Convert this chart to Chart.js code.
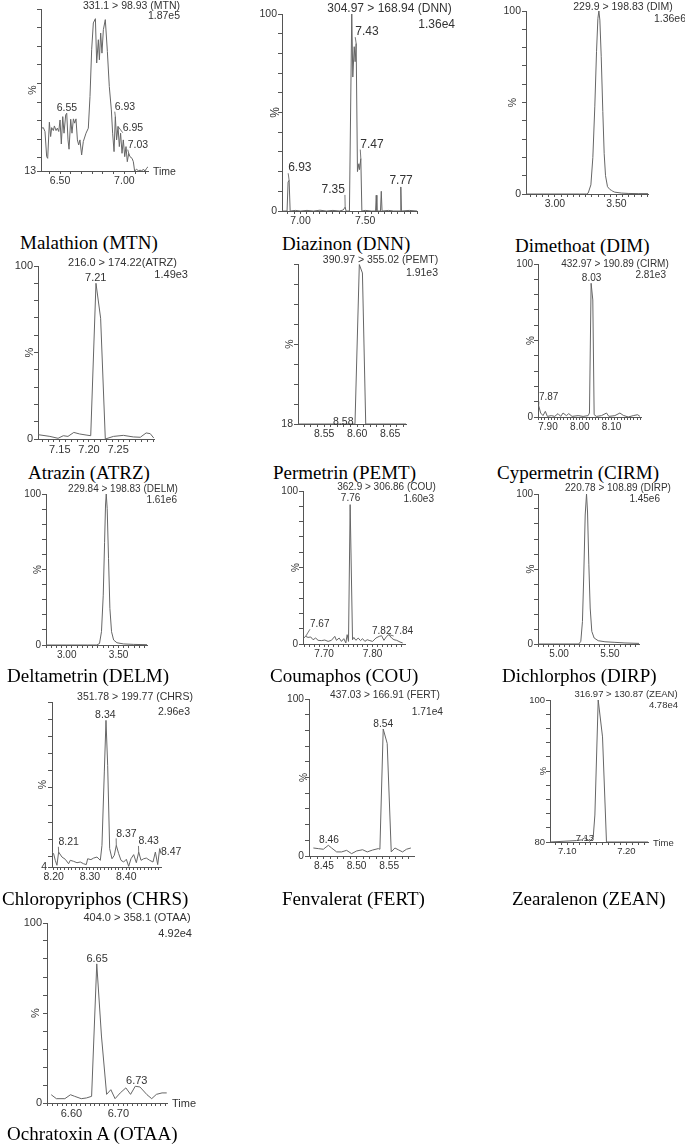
<!DOCTYPE html>
<html>
<head>
<meta charset="utf-8">
<script src="https://cdn.jsdelivr.net/npm/chart.js@4.4.1/dist/chart.umd.min.js"></script>
<style>
  body { margin: 0; background: #fff; width: 685px; height: 1144px; position: relative; overflow: hidden; }
  .cap { position: absolute; font-family: "Liberation Serif", "Times New Roman", serif; line-height: 1; color: #000; white-space: nowrap; }
  .hd { position: absolute; font-family: "Liberation Sans", Arial, sans-serif; line-height: 1; color: #333; white-space: nowrap; }
</style>
</head>
<body>
<script>
// chromatogram traces, [time, %]
const mtnTrace = [[6.358,36.0],[6.370,36.3],[6.383,34.2],[6.396,20.7],[6.404,19.8],[6.417,39.2],[6.427,31.5],[6.435,36.3],[6.448,34.7],[6.456,37.2],[6.469,34.7],[6.479,36.0],[6.490,34.2],[6.500,40.4],[6.510,27.5],[6.521,42.2],[6.531,33.3],[6.544,43.1],[6.552,44.0],[6.562,29.7],[6.570,24.7],[6.583,40.8],[6.593,33.3],[6.604,41.0],[6.614,38.7],[6.624,41.0],[6.635,29.7],[6.645,27.0],[6.655,29.7],[6.668,21.6],[6.681,28.8],[6.702,33.3],[6.720,36.0],[6.733,53.0],[6.746,78.1],[6.759,92.5],[6.775,94.8],[6.785,71.0],[6.798,83.5],[6.806,72.7],[6.816,87.1],[6.826,76.3],[6.837,88.9],[6.852,94.3],[6.868,77.2],[6.883,58.4],[6.899,45.8],[6.909,33.3],[6.920,23.4],[6.930,42.2],[6.940,29.7],[6.951,36.9],[6.961,26.1],[6.971,33.3],[6.982,22.5],[6.992,29.7],[7.003,20.7],[7.013,26.1],[7.023,18.0],[7.034,22.5],[7.044,20.7],[7.060,19.8],[7.070,18.0],[7.080,13.0],[7.096,14.0],[7.110,13.0],[7.122,13.5],[7.135,13.0],[7.148,14.0],[7.160,13.0],[7.174,14.5],[7.187,15.5]];
const dnnTrace = [[6.857,0],[6.896,0],[6.904,14.7],[6.912,15.6],[6.920,0],[6.96,0.3],[7.00,0],[7.05,0.3],[7.10,0],[7.15,0.4],[7.20,0],[7.25,0.3],[7.30,0],[7.33,0.5],[7.345,2.0],[7.352,0],[7.378,0],[7.396,100],[7.404,68],[7.415,83.4],[7.422,75.8],[7.430,85],[7.440,20],[7.451,24],[7.456,21],[7.466,26.6],[7.474,0],[7.50,0.3],[7.55,0],[7.580,0],[7.585,8],[7.590,0],[7.618,0],[7.624,10],[7.630,0],[7.68,0.3],[7.72,0],[7.770,0],[7.775,12.2],[7.780,0],[7.84,0.3],[7.90,0]];
const dimTrace = [[2.765,0],[3.0,0],[3.20,0],[3.257,0],[3.270,0.5],[3.292,5],[3.308,20],[3.324,48],[3.338,78],[3.349,96],[3.357,100],[3.365,95],[3.376,75],[3.389,45],[3.400,22],[3.411,10],[3.427,4],[3.446,2.5],[3.459,2],[3.470,1.5],[3.486,1],[3.541,0.5],[3.595,0.3],[3.676,0.2],[3.756,0.2]];
const atrzTrace = [[7.113,2.5],[7.133,1.5],[7.147,0.4],[7.156,1.9],[7.164,1.5],[7.174,3.8],[7.184,2.9],[7.195,2.3],[7.203,1.9],[7.212,90],[7.220,69.8],[7.228,0],[7.242,1.5],[7.259,2.1],[7.276,1.2],[7.288,1],[7.298,3.5],[7.305,3.1],[7.311,0.6]];
const pemtTrace = [[8.5104,18],[8.55,18],[8.5967,18],[8.6033,99.7],[8.608,95.4],[8.613,18],[8.674,18]];
const cirmTrace = [[7.8706,7.4],[7.8769,2.6],[7.8842,0.9],[7.8916,3.7],[7.8979,0.4],[7.9105,0.9],[7.9210,0.4],[7.9315,2.2],[7.9400,0.4],[7.9473,2.6],[7.9578,0.9],[7.9652,2.2],[7.9757,0.4],[7.9946,0.9],[8.0104,0.4],[8.0262,0.9],[8.0304,2.6],[8.0356,87.4],[8.0409,76.5],[8.0451,1.5],[8.0525,0.4],[8.0682,0.9],[8.0840,2.6],[8.0914,0.4],[8.1103,0.9],[8.1261,2.6],[8.1366,1.1],[8.1524,0],[8.1681,0.9],[8.1818,1.5],[8.1892,0.4]];
const delmTrace = [[2.80,0],[3.0,0],[3.20,0],[3.29,0],[3.316,1],[3.335,8.8],[3.352,33],[3.365,68],[3.374,92.7],[3.381,100],[3.39,90.5],[3.403,57.4],[3.416,24.3],[3.432,8.8],[3.452,3.3],[3.484,1.5],[3.548,0.7],[3.645,0.4],[3.774,0.2]];
const couTrace = [[7.6579,3.9],[7.6620,5.0],[7.6669,4.3],[7.6724,4.6],[7.6772,2.8],[7.6827,3.9],[7.6876,2.4],[7.6945,2.2],[7.7014,2.6],[7.7083,1.7],[7.7152,2.4],[7.7221,5.0],[7.7255,2.4],[7.7311,3.9],[7.7359,1.7],[7.7407,3.5],[7.7449,0.7],[7.7476,6.1],[7.7504,1.7],[7.7538,91.1],[7.7587,2.8],[7.7614,4.3],[7.7656,2.4],[7.7704,3.9],[7.7752,2.2],[7.7794,3.5],[7.7842,1.7],[7.7890,2.8],[7.7945,2.2],[7.8001,1.7],[7.8070,3.9],[7.8139,5.0],[7.8187,5.4],[7.8235,2.4],[7.8291,5.0],[7.8339,6.1],[7.8394,3.9],[7.8442,2.8],[7.8498,2.4],[7.8567,1.3],[7.8622,0.7]];
const dirpTrace = [[4.793,0],[5.0,0],[5.194,0],[5.214,1.8],[5.230,15],[5.243,46],[5.257,86],[5.270,100],[5.280,88],[5.293,52.8],[5.306,24],[5.322,8.4],[5.345,4],[5.385,2.2],[5.451,1.5],[5.549,1.1],[5.648,0.7],[5.786,0.4]];
const chrsTrace = [[8.1954,12.7],[8.2000,11.8],[8.2046,7.9],[8.2092,5.0],[8.2138,12.7],[8.2230,9.8],[8.2321,8.5],[8.2413,5.9],[8.2459,7.9],[8.2551,7.3],[8.2643,6.5],[8.2735,6.9],[8.2826,5.9],[8.2900,5.4],[8.2937,8.8],[8.3028,8.3],[8.3102,9.2],[8.3194,9.8],[8.3286,7.9],[8.3331,16.6],[8.3396,59.3],[8.3442,89.3],[8.3488,63.2],[8.3543,14.7],[8.3607,8.8],[8.3671,10.8],[8.3726,16.6],[8.3791,11.8],[8.3855,7.9],[8.3928,6.9],[8.4002,8.5],[8.4066,4.4],[8.4130,8.8],[8.4204,11.2],[8.4277,6.5],[8.4342,12.7],[8.4406,7.9],[8.4479,8.8],[8.4553,9.2],[8.4645,7.9],[8.4736,6.9],[8.4801,12.7],[8.4865,5.4],[8.4920,14.7],[8.4957,11.8]];
const fertTrace = [[8.4337,5.1],[8.4413,4.7],[8.4490,4.3],[8.4566,6.8],[8.4617,5.1],[8.4694,2.6],[8.4770,2.6],[8.4847,3.6],[8.4923,1.5],[8.5000,3.2],[8.5092,4.0],[8.5163,2.6],[8.5245,3.8],[8.5332,4.7],[8.5357,4.3],[8.5408,80.9],[8.5469,71.7],[8.5531,2.6],[8.5587,5.1],[8.5638,4.0],[8.5704,2.6],[8.5765,4.3],[8.5832,5.1]];
const zeanTrace = [[7.0708,80],[7.1157,80.2],[7.1242,80.3],[7.1298,80.6],[7.1382,80.1],[7.1438,80.6],[7.1467,83.8],[7.1523,100],[7.1596,94.8],[7.1663,80],[7.2365,80]];
const otaaTrace = [[6.557,4.6],[6.568,2.4],[6.586,2.4],[6.598,4.6],[6.607,3.7],[6.621,2.4],[6.632,2.8],[6.643,3.7],[6.654,77.3],[6.664,37.2],[6.675,4.8],[6.684,7.4],[6.693,2.4],[6.704,5.6],[6.716,8.4],[6.726,4.8],[6.736,9.3],[6.746,8.9],[6.761,4.6],[6.771,2.4],[6.781,4.8],[6.793,5.6],[6.803,5.6]];

// peak labels: [text, time, % of the text centre, optional leader point time, %]
const mtnPeaks = [['6.55',6.554,46.8],['6.93',7.005,47.4,6.93,42.2],['6.95',7.067,36.1,6.951,36.9],['7.03',7.106,27,7.034,22.5]];
const dnnPeaks = [['7.43',7.513,91,7.430,85],['7.47',7.552,33.9,7.466,26.6],['6.93',6.995,21.9,6.912,15.6],['7.35',7.253,10.9,7.345,2.0],['7.77',7.777,15.6]];
const atrzPeaks = [['7.21',7.2116,92.9]];
const pemtPeaks = [['8.58',8.579,19.2]];
const cirmPeaks = [['8.03',8.037,90.7],['7.87',7.902,13,7.8706,7.4]];
const couPeaks = [['7.76',7.7547,95],['7.67',7.691,12.6,7.662,5.0],['7.82',7.819,8.2],['7.84',7.8636,8.2,7.8339,6.1]];
const chrsPeaks = [['8.34',8.3424,92.3],['8.21',8.2413,18.5,8.2138,12.7],['8.37',8.4003,23.4,8.3726,16.6],['8.43',8.4617,19,8.4342,12.7],['8.47',8.5234,12.7]];
const fertPeaks = [['8.54',8.5408,83.9],['8.46',8.4577,10]];
const zeanPeaks = [['7.13',7.1298,80.56]];
const otaaPeaks = [['6.65',6.6548,79.9],['6.73',6.7392,12.3]];

// axis ranges and tick labels
const timeRanges = [[6.352,7.184],[6.857,7.90],[2.765,3.756],[7.1126,7.3115],[8.5104,8.674],[7.8685,8.1925],[2.80,3.774],[7.6565,7.867],[4.793,5.786],[8.1956,8.4956],[8.427,8.588],[7.0708,7.2365],[6.548,6.8036]];
const timeLabels = [[6.50,7.00],[7.00,7.50],[3.00,3.50],[7.15,7.20,7.25],[8.55,8.60,8.65],[7.90,8.00,8.10],[3.00,3.50],[7.70,7.80],[5.00,5.50],[8.20,8.30,8.40],[8.45,8.50,8.55],[7.10,7.20],[6.60,6.70]];
const timeMinorSteps = [0.5/6,0.05,0.05,0.01,0.01,0.01,0.05,0.01,0.05,0.01,0.01,0.01,0.01];
const fullTicks = [0,10,20,30,40,50,60,70,80,90,100];
const mtnYTicks = [13,20,30,40,50,60,70,80,90,100];
const pemtYTicks = [18,28.25,38.5,48.75,59,69.25,79.5,89.75,100];
const chrsYTicks = [4,10,20,30,40,50,60,70,80,90,100];
const zeanYTicks = [80,82,84,86,88,90,92,94,96,98,100];
const pctRanges = [[13,100],[0,100],[0,100],[0,100],[18,100],[0,100],[0,100],[0,100],[0,100],[4,100],[0,100],[80,100],[0,100]];
const pctTickSets = [mtnYTicks,fullTicks,fullTicks,fullTicks,pemtYTicks,fullTicks,fullTicks,fullTicks,fullTicks,chrsYTicks,fullTicks,zeanYTicks,fullTicks];
const pctLabels = [[13],[0,100],[0,100],[0,100],[18],[0,100],[0,100],[0,100],[0,100],[4],[0,100],[80,100],[0,100]];

const compoundNames = ['Malathion (MTN)','Diazinon (DNN)','Dimethoat (DIM)','Atrazin (ATRZ)','Permetrin (PEMT)','Cypermetrin (CIRM)','Deltametrin (DELM)','Coumaphos (COU)','Dichlorphos (DIRP)','Chloropyriphos (CHRS)','Fenvalerat (FERT)','Zearalenon (ZEAN)','Ochratoxin A (OTAA)'];
const transitions = ['331.1 > 98.93 (MTN)','304.97 > 168.94 (DNN)','229.9 > 198.83 (DIM)','216.0 > 174.22(ATRZ)','390.97 > 355.02 (PEMT)','432.97 > 190.89 (CIRM)','229.84 > 198.83 (DELM)','362.9 > 306.86 (COU)','220.78 > 108.89 (DIRP)','351.78 > 199.77 (CHRS)','437.03 > 166.91 (FERT)','316.97 > 130.87 (ZEAN)','404.0 > 358.1 (OTAA)'];
const intensities = ['1.87e5','1.36e4','1.36e6','1.49e3','1.91e3','2.81e3','1.61e6','1.60e3','1.45e6','2.96e3','1.71e4','4.78e4','4.92e4'];

const traces = [mtnTrace,dnnTrace,dimTrace,atrzTrace,pemtTrace,cirmTrace,delmTrace,couTrace,dirpTrace,chrsTrace,fertTrace,zeanTrace,otaaTrace];
const peaks = [mtnPeaks,dnnPeaks,[],atrzPeaks,pemtPeaks,cirmPeaks,[],couPeaks,[],chrsPeaks,fertPeaks,zeanPeaks,otaaPeaks];

// page placement of each panel: plot box [l,t,r,b], font size, header/intensity/caption anchors
const layout = [
  {area:[41,9,148,171], fs:10.5, head:[131.5,5], inten:[180,15], cap:[20,242], pct:8, time:true},
  {area:[282,14,417,211], fs:12, tfs:10.5, head:[389.5,8], inten:[455,24], cap:[282,243], pct:6},
  {area:[526,11,648,194], fs:10.5, head:[623,6], inten:[686,18], cap:[515,245], pct:13},
  {area:[38,266,154,439], fs:11, head:[122.5,262], inten:[188,274], cap:[28,472], pct:8},
  {area:[298,264,406,424], fs:10.5, head:[380.5,259], inten:[438,272], cap:[273,472], pct:8},
  {area:[538,264,641,417], fs:10, head:[615,264], inten:[666,275], cap:[497,472], pct:7},
  {area:[46,494,147,645], fs:10, head:[123,489], inten:[177,500], cap:[7,675], pct:8},
  {area:[303,491,405,644], fs:10, head:[386.5,487], inten:[434,499], cap:[270,675], pct:7},
  {area:[538,494,639,644], fs:10, head:[618,488], inten:[660,499], cap:[502,675], pct:7},
  {area:[52,702,161,867], fs:10.5, head:[135,696], inten:[190,711], cap:[2,898], pct:9},
  {area:[309,699,414,856], fs:10.2, head:[385,695], inten:[443,712], cap:[282,898], pct:5},
  {area:[550,700,648,842], fs:9.5, head:[626,694], inten:[678,705], cap:[512,898], pct:7, time:true},
  {area:[47,923,167,1103], fs:11, head:[137,917], inten:[192,933], cap:[7,1133], pct:11, time:true}
];

const SANS = '"Liberation Sans", Arial, sans-serif';
const axisGray = '#555';
const textGray = '#333';
const lineGray = '#666';

function addText(cls, text, x, y, fs, align) {
  const d = document.createElement('div');
  d.className = cls;
  d.textContent = text;
  d.style.left = x + 'px';
  d.style.top = (y - fs / 2) + 'px';
  d.style.fontSize = fs + 'px';
  if (align === 'center') d.style.transform = 'translateX(-50%)';
  if (align === 'right') d.style.transform = 'translateX(-100%)';
  document.body.appendChild(d);
}

function timeTicks(i) {
  const step = timeMinorSteps[i];
  const [lo, hi] = timeRanges[i];
  const out = [];
  for (let k = Math.ceil(lo / step - 1e-9); k * step <= hi + 1e-9; k++) out.push(k * step);
  return out;
}

function makePanel(i) {
  const L = layout[i];
  const [l, t, r, b] = L.area;
  const fs = L.fs, tfs = L.tfs || L.fs;
  const W = (r - l) + 70, H = (b - t) + 32;
  const cv = document.createElement('canvas');
  cv.width = W; cv.height = H;
  cv.style.cssText = `position:absolute;left:${l - 30}px;top:${t - 10}px;width:${W}px;height:${H}px`;
  document.body.appendChild(cv);

  const extras = {
    id: 'extras' + i,
    afterDraw(chart) {
      const {ctx, chartArea: a, scales: {x, y}} = chart;
      ctx.save();
      ctx.fillStyle = textGray;
      ctx.strokeStyle = axisGray;
      ctx.lineWidth = 0.8;
      ctx.font = `${fs}px ${SANS}`;
      ctx.textAlign = 'center';
      ctx.textBaseline = 'middle';
      peaks[i].forEach(([txt, tx, ty, lx, ly]) => {
        const px = x.getPixelForValue(tx), py = y.getPixelForValue(ty);
        ctx.fillText(txt, px, py);
        if (lx !== undefined) {
          const w = ctx.measureText(txt).width;
          const ex = lx < tx ? px - w / 2 : px + w / 2;
          ctx.beginPath();
          ctx.moveTo(x.getPixelForValue(lx), y.getPixelForValue(ly));
          ctx.lineTo(ex, py + fs * 0.45);
          ctx.stroke();
        }
      });
      if (L.time) {
        ctx.textAlign = 'left';
        ctx.fillText('Time', a.right + 5, a.bottom + 1);
      }
      ctx.translate(a.left - L.pct, (a.top + a.bottom) / 2);
      ctx.rotate(-Math.PI / 2);
      ctx.textAlign = 'center';
      ctx.fillText('%', 0, 0);
      ctx.restore();
    }
  };

  new Chart(cv, {
    type: 'line',
    data: {
      datasets: [{
        data: traces[i].map(([tm, pc]) => ({x: tm, y: pc})),
        borderColor: lineGray,
        borderWidth: 1,
        pointRadius: 0,
        tension: 0,
        fill: false
      }]
    },
    options: {
      responsive: false,
      animation: false,
      events: [],
      layout: {padding: {left: 0, top: 10, right: 40, bottom: 0}},
      plugins: {legend: {display: false}, tooltip: {enabled: false}},
      scales: {
        x: {
          type: 'linear',
          bounds: 'data',
          min: timeRanges[i][0],
          max: timeRanges[i][1],
          afterBuildTicks: s => { s.ticks = timeTicks(i).map(v => ({value: v})) },
          afterFit: s => { s.height = 22 },
          grid: {drawOnChartArea: false, drawTicks: true, tickLength: 3, color: axisGray},
          border: {color: axisGray},
          ticks: {
            autoSkip: false, maxRotation: 0, minRotation: 0, padding: 1,
            color: textGray, font: {family: SANS, size: tfs},
            callback: v => timeLabels[i].some(m => Math.abs(m - v) < 1e-6) ? v.toFixed(2) : ''
          }
        },
        y: {
          type: 'linear',
          bounds: 'data',
          min: pctRanges[i][0],
          max: pctRanges[i][1],
          afterBuildTicks: s => { s.ticks = pctTickSets[i].map(v => ({value: v})) },
          afterFit: s => { s.width = 30 },
          grid: {drawOnChartArea: false, drawTicks: true, tickLength: 4, color: axisGray},
          border: {color: axisGray},
          ticks: {
            autoSkip: false, padding: 1,
            color: textGray, font: {family: SANS, size: tfs},
            callback: v => pctLabels[i].includes(v) ? String(v) : ''
          }
        }
      }
    },
    plugins: [extras]
  });

  addText('hd', transitions[i], L.head[0], L.head[1], fs, 'center');
  addText('hd', intensities[i], L.inten[0], L.inten[1], fs, 'right');
  addText('cap', compoundNames[i], L.cap[0], L.cap[1], 19, 'left');
}

for (let i = 0; i < traces.length; i++) makePanel(i);
</script>
</body>
</html>
